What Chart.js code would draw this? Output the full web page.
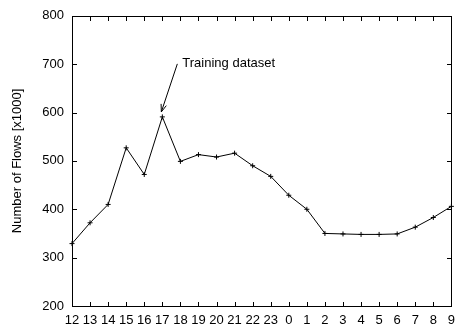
<!DOCTYPE html>
<html><head><meta charset="utf-8">
<script src="https://cdn.jsdelivr.net/npm/chart.js@4/dist/chart.umd.min.js"></script>
<style>html,body{margin:0;padding:0;background:#fff}#wrap{width:462px;height:326px}</style>
</head><body><div id="wrap"><canvas id="c" width="462" height="326"></canvas></div>
<script>
const hours = ['12','13','14','15','16','17','18','19','20','21','22','23','0','1','2','3','4','5','6','7','8','9'];
const flows = [329,372,410,527,472,591,499,513,508,516,490,468,429,400,350,349,348,348,349,363,383,406];
const yTicks = [200,300,400,500,600,700,800];
const annotationText = 'Training dataset';
const annotationIndex = 5;

const FONT = '"Liberation Sans", Arial, Helvetica, sans-serif';

const framePlugin = {
  id: 'frame',
  beforeDatasetsDraw(chart) {
    const ctx = chart.ctx;
    const xs = chart.scales.x, ys = chart.scales.y;
    const L = Math.round(xs.getPixelForValue(0)), R = Math.round(xs.getPixelForValue(hours.length - 1));
    const T = Math.round(ys.getPixelForValue(800)), B = Math.round(ys.getPixelForValue(200));
    ctx.save();
    ctx.fillStyle = '#000000';
    ctx.fillRect(L, T, R - L + 1, B - T + 1);
    ctx.fillStyle = '#ffffff';
    ctx.fillRect(L + 1, T + 1, R - L - 1, B - T - 1);
    ctx.fillStyle = '#000000';
    const tl = 4;
    for (let i = 0; i < hours.length; i++) {
      const tx = Math.round(xs.getPixelForValue(i));
      ctx.fillRect(tx, B - tl, 1, tl);
      ctx.fillRect(tx, T + 1, 1, tl);
    }
    for (const v of yTicks) {
      const ty = Math.round(ys.getPixelForValue(v));
      ctx.fillRect(L + 1, ty, tl, 1);
      ctx.fillRect(R - tl, ty, tl, 1);
    }
    ctx.restore();
  },
  afterDraw(chart) {
    const ctx = chart.ctx;
    const xs = chart.scales.x, ys = chart.scales.y;
    ctx.save();
    ctx.strokeStyle = '#000000';
    ctx.fillStyle = '#000000';
    ctx.lineWidth = 1;
    ctx.setLineDash([]);
    const px = xs.getPixelForValue(annotationIndex);
    const py = ys.getPixelForValue(flows[annotationIndex]);
    const tipX = px - 1, tipY = py - 5;
    const sX = px + 15, sY = py - 53;
    ctx.beginPath();
    ctx.moveTo(sX, sY); ctx.lineTo(tipX, tipY);
    const ang = Math.atan2(tipY - sY, tipX - sX);
    const hl = 8, hw = 0.35;
    ctx.moveTo(tipX - hl * Math.cos(ang - hw), tipY - hl * Math.sin(ang - hw));
    ctx.lineTo(tipX, tipY);
    ctx.lineTo(tipX - hl * Math.cos(ang + hw), tipY - hl * Math.sin(ang + hw));
    ctx.stroke();
    ctx.font = '13px ' + FONT;
    ctx.textBaseline = 'middle';
    ctx.textAlign = 'left';
    ctx.fillText(annotationText, sX + 5, sY);
    ctx.restore();
  }
};

new Chart(document.getElementById('c'), {
  type: 'line',
  data: {
    labels: hours,
    datasets: [{
      data: flows,
      borderColor: '#000',
      borderWidth: 1,
      pointStyle: 'cross',
      pointRadius: 2.5,
      pointBorderColor: '#000',
      pointBorderWidth: 1,
      tension: 0,
      fill: false
    }]
  },
  options: {
    responsive: false,
    animation: false,
    devicePixelRatio: 1,
    layout: {padding: {left: 0, right: 3, top: 13, bottom: 0}},
    plugins: {legend: {display: false}, tooltip: {enabled: false}},
    scales: {
      x: {
        type: 'category',
        offset: false,
        grid: {display: false, drawTicks: false},
        border: {display: false},
        ticks: {color: '#000', font: {family: FONT, size: 13}, padding: 7, maxRotation: 0, autoSkip: false},
        afterFit(s) { s.height = 20; }
      },
      y: {
        min: 200, max: 800,
        grid: {display: false, drawTicks: false},
        border: {display: false},
        afterBuildTicks(s) { s.ticks = yTicks.map(v => ({value: v})); },
        ticks: {color: '#000', font: {family: FONT, size: 13}, padding: 8},
        title: {display: true, text: 'Number of Flows [x1000]', color: '#000', font: {family: FONT, size: 13}, padding: {top: 10, bottom: 0}},
        afterFit(s) { s.width = 72; }
      }
    }
  },
  plugins: [framePlugin]
});
</script>
</body></html>
